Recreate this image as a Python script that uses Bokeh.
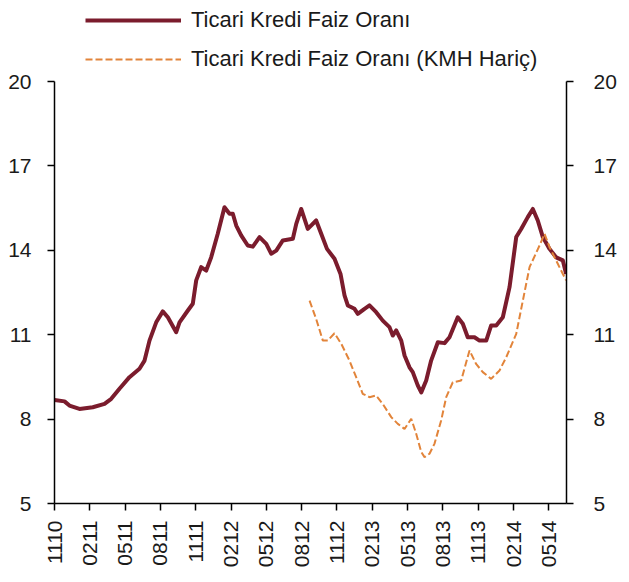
import math
from bokeh.plotting import figure
from bokeh.models import Range1d, LinearAxis, FixedTicker, Legend, LegendItem
from bokeh.embed import file_html
from bokeh.resources import INLINE

# x positions are months since November 2010 (1110)
tick_months = [0, 3, 6, 9, 12, 15, 18, 21, 24, 27, 30, 33, 36, 39, 42]
tick_labels = ["1110", "0211", "0511", "0811", "1111", "0212", "0512", "0812",
               "1112", "0213", "0513", "0813", "1113", "0214", "0514"]
y_ticks = [5, 8, 11, 14, 17, 20]

series_main = "Ticari Kredi Faiz Oranı"
series_excl = "Ticari Kredi Faiz Oranı (KMH Hariç)"

main_months = [0.00, 0.85, 1.27, 2.12, 3.25, 4.25, 4.82, 5.52, 6.37, 7.22, 7.65, 8.07,
               8.64, 9.20, 9.63, 10.34, 10.62, 11.33, 11.75, 12.04, 12.46, 12.89, 13.31,
               13.87, 14.44, 14.87, 15.15, 15.44, 15.86, 16.42, 16.85, 17.42, 17.99, 18.41,
               18.84, 19.40, 20.25, 20.54, 20.96, 21.52, 22.23, 22.66, 23.15, 23.79, 24.30,
               24.64, 24.92, 25.49, 25.77, 26.34, 26.76, 27.33, 27.89, 28.46, 28.74, 29.03,
               29.46, 29.74, 30.16, 30.44, 30.87, 31.16, 31.58, 32.00, 32.57, 33.14, 33.56,
               34.26, 34.69, 35.11, 35.68, 36.11, 36.68, 37.10, 37.53, 38.09, 38.66, 39.23,
               39.65, 40.21, 40.64, 41.06, 41.49, 42.06, 42.62, 43.19, 43.47]
main_rate = [8.68, 8.63, 8.48, 8.36, 8.42, 8.54, 8.72, 9.08, 9.49, 9.79, 10.08, 10.79,
             11.44, 11.83, 11.62, 11.09, 11.44, 11.86, 12.10, 12.93, 13.40, 13.28, 13.75,
             14.59, 15.53, 15.30, 15.30, 14.88, 14.53, 14.17, 14.13, 14.47, 14.23, 13.88,
             13.99, 14.35, 14.41, 14.94, 15.47, 14.76, 15.06, 14.59, 14.05, 13.70, 13.16,
             12.40, 12.04, 11.92, 11.74, 11.92, 12.04, 11.80, 11.50, 11.27, 10.97, 11.15,
             10.79, 10.26, 9.84, 9.67, 9.19, 8.95, 9.37, 10.08, 10.73, 10.70, 10.91,
             11.62, 11.39, 10.91, 10.91, 10.79, 10.79, 11.33, 11.33, 11.62, 12.69, 14.47,
             14.76, 15.18, 15.47, 15.06, 14.47, 14.05, 13.75, 13.64, 13.16]

excl_months = [21.67, 22.23, 22.80, 23.22, 23.79, 24.36, 25.06, 25.63, 26.19, 26.76, 27.33,
               27.89, 28.61, 29.17, 29.74, 30.31, 30.73, 31.16, 31.44, 31.86, 32.28, 32.85,
               33.28, 33.84, 34.55, 35.26, 35.82, 36.39, 37.10, 37.81, 38.38, 39.23, 39.79,
               40.36, 41.21, 41.63, 42.06, 42.76, 43.19, 43.47]
excl_rate = [12.21, 11.56, 10.79, 10.79, 11.05, 10.68, 10.08, 9.49, 8.90, 8.78, 8.84,
             8.54, 8.07, 7.83, 7.65, 8.01, 7.48, 6.83, 6.65, 6.77, 7.12, 7.95,
             8.78, 9.31, 9.37, 10.44, 9.96, 9.67, 9.43, 9.73, 10.20, 11.03, 12.21,
             13.40, 14.17, 14.59, 14.11, 13.52, 13.16, 12.93]

MAROON = "#7B1C2D"
ORANGE = "#E2843A"
FONT = "Liberation Sans"
TEXT = "#1a1a1a"

# the frame reaches the top of the figure so that the legend (drawn in the
# frame, above the value 20) is not clipped; the axes are bounded to 5..20
Y_TOP = 20 + 81 * 15 / 422

p = figure(frame_width=512, frame_height=503,
           min_border_left=54, min_border_right=56, min_border_top=0, min_border_bottom=71,
           x_range=Range1d(0, 43.5), y_range=Range1d(5, Y_TOP),
           output_backend="svg", toolbar_location=None, outline_line_color=None,
           background_fill_color="white", border_fill_color="white")
p.xgrid.visible = False
p.ygrid.visible = False

r1 = p.line(main_months, main_rate, line_color=MAROON, line_width=4, line_join="round")
r2 = p.line(excl_months, excl_rate, line_color=ORANGE, line_width=2, line_dash="7 3")


def style(ax, standoff):
    ax.axis_line_color = "black"
    ax.axis_line_width = 1.5
    ax.major_tick_line_color = "black"
    ax.major_tick_line_width = 1.5
    ax.major_tick_out = 7
    ax.major_tick_in = 0
    ax.minor_tick_line_color = None
    ax.major_label_text_font = FONT
    ax.major_label_text_font_size = "21px"
    ax.major_label_text_color = TEXT
    ax.major_label_standoff = standoff


xa = p.xaxis[0]
xa.ticker = FixedTicker(ticks=tick_months)
xa.major_label_overrides = {m: s for m, s in zip(tick_months, tick_labels)}
xa.major_label_orientation = math.pi / 2
style(xa, 10)

ya = p.yaxis[0]
ya.ticker = FixedTicker(ticks=y_ticks)
ya.bounds = (5, 20)
style(ya, 16)

yr = LinearAxis(ticker=FixedTicker(ticks=y_ticks), bounds=(5, 20))
style(yr, 20)
p.add_layout(yr, "right")

legend = Legend(items=[LegendItem(label=series_main, renderers=[r1]),
                       LegendItem(label=series_excl, renderers=[r2])],
                location=(31, 431), orientation="vertical",
                glyph_width=96, glyph_height=22, label_height=22, spacing=13,
                padding=0, margin=0, label_standoff=10,
                label_text_font=FONT, label_text_font_size="22px",
                label_text_color=TEXT,
                border_line_color=None, background_fill_alpha=0)
p.add_layout(legend)

open("out.html", "w").write(file_html(p, INLINE))
